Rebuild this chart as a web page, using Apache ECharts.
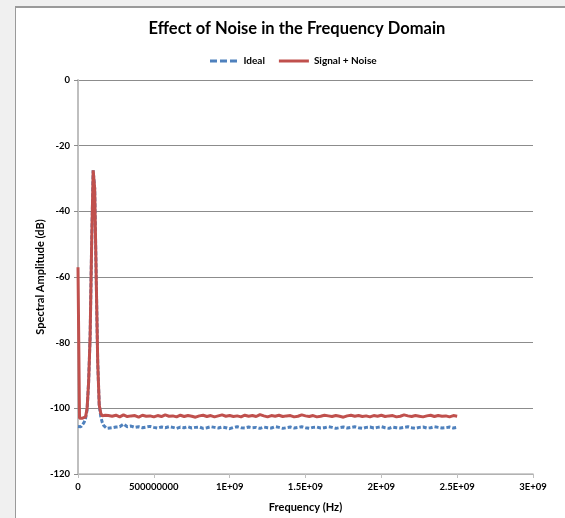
<!DOCTYPE html>
<html>
<head>
<meta charset="utf-8">
<script src="https://cdn.jsdelivr.net/npm/echarts@6/dist/echarts.min.js"></script>
<style>
  html, body { margin: 0; padding: 0; background: #f0f0f0; }
  #frame {
    position: absolute; left: 15px; top: 6px; width: 560px; height: 520px;
    background: #fff; border-left: 1px solid #9a9a9a; border-top: 2px solid #9a9a9a;
  }
  #chart { position: absolute; left: 0; top: 0; width: 565px; height: 518px; }
</style>
</head>
<body>
<div id="frame"></div>
<div id="chart"></div>
<script>
// frequency points in MHz (fine steps round the tone, coarser across the floor)
var freqMHz = [
  0, 10, 20, 30, 40, 50, 60, 70, 80, 90, 100, 110, 120, 130, 140, 150, 160, 170, 180, 190, 200,
  225, 250, 275, 300, 325, 350, 375, 400, 425, 450, 475, 500, 525, 550, 575, 600, 625, 650, 675, 700,
  725, 750, 775, 800, 825, 850, 875, 900, 925, 950, 975, 1000, 1025, 1050, 1075, 1100, 1125, 1150, 1175, 1200,
  1225, 1250, 1275, 1300, 1325, 1350, 1375, 1400, 1425, 1450, 1475, 1500, 1525, 1550, 1575, 1600, 1625, 1650, 1675, 1700,
  1725, 1750, 1775, 1800, 1825, 1850, 1875, 1900, 1925, 1950, 1975, 2000, 2025, 2050, 2075, 2100, 2125, 2150, 2175, 2200,
  2225, 2250, 2275, 2300, 2325, 2350, 2375, 2400, 2425, 2450, 2475, 2500
]

var ideal = [
  -105.5, -105.8, -105.6, -105.0, -104.3, -103.0, -100.5, -92, -78, -50, -27.5, -33, -60, -86, -99, -102.5, -104.3, -105.3, -105.9, -106.1, -105.8,
  -105.9, -105.7, -105.6, -104.8, -105.6, -105.4, -105.8, -105.6, -105.9, -105.7,
  -105.5, -105.8, -106.0, -105.7, -105.9, -105.6, -105.8, -106.1, -105.7, -105.9,
  -105.6, -106.0, -105.8, -105.7, -106.1, -105.9, -105.6, -105.8, -106.0, -105.7,
  -105.9, -106.2, -105.8, -105.6, -105.9, -106.0, -105.7, -105.9, -105.8, -106.1,
  -105.7, -105.9, -106.0, -105.6, -105.8, -106.1, -105.9, -105.7, -106.0, -105.8,
  -105.6, -105.9, -106.1, -105.8, -105.7, -106.0, -105.9, -105.6, -105.8, -106.1,
  -105.9, -105.7, -106.0, -105.8, -105.6, -105.9, -106.1, -105.8, -105.7, -106.0,
  -105.8, -105.6, -105.9, -106.1, -105.7, -105.9, -106.0, -105.8, -105.6, -105.9,
  -106.1, -105.8, -105.7, -106.0, -105.9, -105.6, -105.8, -106.0, -105.9, -105.7,
  -106.0, -105.8
]

var noisy = [
  -57, -103, -103.2, -103, -103.1, -102.6, -100, -92, -78, -50, -27.5, -33, -60, -86, -99, -101.5, -102.3, -102.6, -102.1, -102.5, -102.2,
  -102.4, -102.1, -102.6, -102.0, -102.5, -102.3, -102.2, -102.7, -102.1, -102.4,
  -102.3, -102.6, -102.2, -102.5, -102.0, -102.4, -102.3, -102.6, -102.1, -102.5,
  -102.2, -102.4, -102.7, -102.3, -102.1, -102.5, -102.2, -102.6, -102.3, -102.0,
  -102.4, -102.2, -102.5, -102.3, -102.6, -102.1, -102.4, -102.2, -102.5, -101.9,
  -102.3, -102.6, -102.2, -102.4, -102.1, -102.5, -102.3, -102.2, -102.6, -102.4,
  -102.0, -102.3, -102.5, -102.2, -102.6, -102.4, -102.1, -102.3, -102.5, -102.2,
  -102.4, -102.7, -102.3, -102.1, -102.4, -102.2, -102.5, -102.3, -102.6, -102.2,
  -102.4, -102.1, -102.5, -102.3, -102.2, -102.6, -102.4, -102.0, -102.3, -102.5,
  -102.2, -102.4, -102.6, -102.3, -102.1, -102.5, -102.2, -102.4, -102.3, -102.6,
  -102.2, -102.4
]

// Excel style labels for the frequency axis
var xTickLabels = {
  0: '0', 500000000: '500000000', 1000000000: '1E+09', 1500000000: '1.5E+09',
  2000000000: '2E+09', 2500000000: '2.5E+09', 3000000000: '3E+09'
}

function pairs(vals) {
  return freqMHz.map(function (f, i) { return [f * 1e6, vals[i]] })
}

var font = 'Lato, "Open Sans", sans-serif'
var myChart = echarts.init(document.getElementById('chart'))
var option = {
  animation: false,
  textStyle: { fontFamily: font },
  title: {
    text: 'Effect of Noise in the Frequency Domain',
    left: 292,
    textAlign: 'center',
    top: 15,
    textStyle: { fontFamily: font, fontSize: 16.5, fontWeight: 'bold', color: '#000' }
  },
  legend: {
    top: 51,
    left: 205,
    itemWidth: 30,
    itemHeight: 3,
    itemGap: 14,
    textStyle: { fontFamily: font, fontSize: 10, fontWeight: 'bold', color: '#000' },
    data: [
      { name: 'Ideal', icon: 'path://M0,0H7V3H0Z M10,0H17V3H10Z M20,0H27V3H20Z' },
      { name: 'Signal + Noise', icon: 'rect' }
    ]
  },
  grid: { left: 78, right: 32, top: 80, bottom: 41 },
  xAxis: {
    type: 'value',
    min: 0,
    max: 3000000000,
    interval: 500000000,
    name: 'Frequency (Hz)',
    nameLocation: 'middle',
    nameGap: 28,
    nameMoveOverlap: false,
    nameTextStyle: { fontFamily: font, fontSize: 11, fontWeight: 'bold', color: '#000' },
    axisLine: { onZero: false, lineStyle: { color: '#bfbfbf', width: 1.5 } },
    axisTick: { show: true, length: 4, lineStyle: { color: '#bfbfbf' } },
    axisLabel: {
      margin: 8, fontFamily: font, fontSize: 9.5, fontWeight: 'bold', color: '#000',
      formatter: function (v) { return xTickLabels[v] !== undefined ? xTickLabels[v] : '' }
    },
    splitLine: { show: false }
  },
  yAxis: {
    type: 'value',
    min: -120,
    max: 0,
    interval: 20,
    name: 'Spectral Amplitude (dB)',
    nameLocation: 'middle',
    nameGap: 32,
    nameMoveOverlap: false,
    nameTextStyle: { fontFamily: font, fontSize: 11, fontWeight: 'bold', color: '#000' },
    axisLine: { show: true, onZero: false, lineStyle: { color: '#bfbfbf', width: 2 } },
    axisTick: { show: true, length: 4, lineStyle: { color: '#8c8c8c' } },
    axisLabel: { margin: 8, fontFamily: font, fontSize: 9.5, fontWeight: 'bold', color: '#000' },
    splitLine: { lineStyle: { color: '#8c8c8c', width: 1 } }
  },
  series: [
    {
      name: 'Ideal',
      type: 'line',
      symbol: 'none',
      data: pairs(ideal),
      itemStyle: { color: '#4f81bd' },
      lineStyle: { color: '#4f81bd', width: 3, type: [4, 2] },
      z: 2
    },
    {
      name: 'Signal + Noise',
      type: 'line',
      symbol: 'none',
      data: pairs(noisy),
      itemStyle: { color: '#c0504d' },
      lineStyle: { color: '#c0504d', width: 3 },
      z: 3
    }
  ]
}
myChart.setOption(option)
</script>
</body>
</html>
